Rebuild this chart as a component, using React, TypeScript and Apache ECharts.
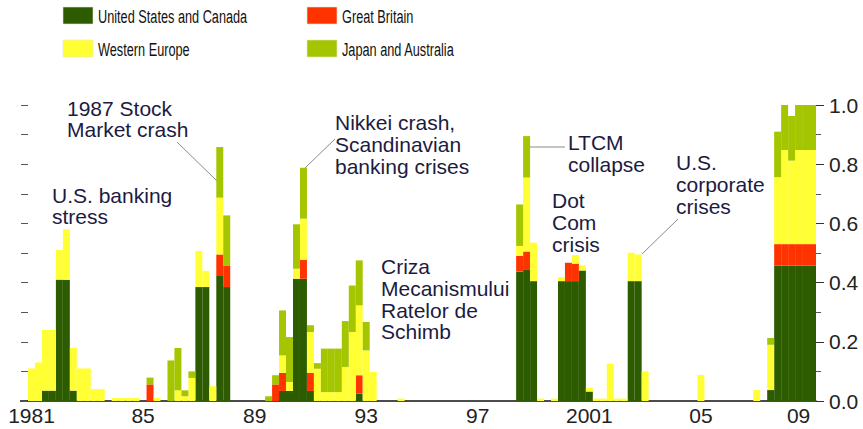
import React, { useEffect, useRef } from "react";
import * as echarts from "echarts";

// Quarterly categories 1981Q1 .. 2009Q1
const quarters: string[] = [];
for (let y = 1981; y <= 2009; y++) {
  for (let q = 1; q <= 4; q++) {
    if (y < 2009 || q === 1) quarters.push(`${y}Q${q}`);
  }
}

// tick label positions (category index) and texts
const tickIndex = [0, 16, 32, 48, 64, 80, 96, 110];
const tickText = ["1981", "85", "89", "93", "97", "2001", "05", "09"];

const seriesNames = [
  "United States and Canada",
  "Great Britain",
  "Western Europe",
  "Japan and Australia",
];
const seriesColors = ["#2D5B00", "#FF3300", "#FFFF33", "#A4C600"];

// [quarter, value] — quarters not listed are 0
const usCanada: [string, number][] = [
  ["1981Q3", 0.035], ["1981Q4", 0.035], ["1982Q1", 0.41], ["1982Q2", 0.41], ["1982Q3", 0.035],
  ["1987Q1", 0.385], ["1987Q2", 0.385], ["1987Q4", 0.425], ["1988Q1", 0.385],
  ["1990Q1", 0.034], ["1990Q2", 0.034], ["1990Q3", 0.413], ["1990Q4", 0.413], ["1991Q1", 0.034],
  ["1992Q4", 0.025],
  ["1998Q3", 0.437], ["1998Q4", 0.445], ["1999Q1", 0.405],
  ["2000Q1", 0.405], ["2000Q2", 0.405], ["2000Q3", 0.405], ["2000Q4", 0.441], ["2001Q1", 0.032],
  ["2002Q3", 0.405], ["2002Q4", 0.405],
  ["2007Q3", 0.037], ["2007Q4", 0.457], ["2008Q1", 0.457], ["2008Q2", 0.457],
  ["2008Q3", 0.457], ["2008Q4", 0.457], ["2009Q1", 0.457],
];

const greatBritain: [string, number][] = [
  ["1985Q2", 0.056], ["1987Q4", 0.07], ["1988Q1", 0.073],
  ["1989Q4", 0.056], ["1990Q1", 0.061], ["1990Q4", 0.064], ["1991Q1", 0.061],
  ["1992Q4", 0.062], ["1998Q3", 0.053], ["1998Q4", 0.06],
  ["2000Q2", 0.062], ["2000Q3", 0.059],
  ["2007Q4", 0.073], ["2008Q1", 0.073], ["2008Q2", 0.073], ["2008Q3", 0.073],
  ["2008Q4", 0.073], ["2009Q1", 0.073],
];

const westernEurope: [string, number][] = [
  ["1981Q1", 0.11], ["1981Q2", 0.13], ["1981Q3", 0.205], ["1981Q4", 0.205],
  ["1982Q1", 0.1], ["1982Q2", 0.17], ["1982Q3", 0.145], ["1982Q4", 0.11],
  ["1983Q1", 0.11], ["1983Q2", 0.04], ["1983Q3", 0.04],
  ["1984Q1", 0.01], ["1984Q2", 0.01], ["1984Q3", 0.01], ["1984Q4", 0.01],
  ["1985Q3", 0.01], ["1986Q2", 0.036], ["1986Q3", 0.016], ["1986Q4", 0.078],
  ["1987Q1", 0.122], ["1987Q2", 0.055], ["1987Q3", 0.05], ["1987Q4", 0.192],
  ["1990Q1", 0.059], ["1990Q2", 0.03], ["1990Q3", 0.034], ["1990Q4", 0.139],
  ["1991Q1", 0.138], ["1991Q2", 0.109], ["1991Q3", 0.03], ["1991Q4", 0.03],
  ["1992Q1", 0.03], ["1992Q2", 0.115], ["1992Q3", 0.233], ["1992Q4", 0.236],
  ["1993Q1", 0.171], ["1993Q2", 0.098], ["1994Q2", 0.008],
  ["1998Q3", 0.034], ["1998Q4", 0.25], ["1999Q1", 0.13], ["1999Q2", 0.008], ["1999Q4", 0.008],
  ["2000Q1", 0.014], ["2000Q3", 0.029], ["2000Q4", 0.017], ["2001Q1", 0.013],
  ["2001Q2", 0.008], ["2001Q3", 0.008], ["2001Q4", 0.126], ["2002Q1", 0.008], ["2002Q2", 0.008],
  ["2002Q3", 0.096], ["2002Q4", 0.09], ["2003Q1", 0.1], ["2005Q1", 0.088], ["2007Q1", 0.037],
  ["2007Q3", 0.153], ["2007Q4", 0.226], ["2008Q1", 0.318], ["2008Q2", 0.282],
  ["2008Q3", 0.318], ["2008Q4", 0.318], ["2009Q1", 0.318],
];

const japanAustralia: [string, number][] = [
  ["1985Q2", 0.023], ["1986Q1", 0.137], ["1986Q2", 0.143], ["1986Q3", 0.02], ["1986Q4", 0.022],
  ["1987Q4", 0.171], ["1988Q1", 0.169],
  ["1989Q3", 0.016], ["1989Q4", 0.031], ["1990Q1", 0.152], ["1990Q2", 0.152],
  ["1990Q3", 0.15], ["1990Q4", 0.172], ["1991Q1", 0.023], ["1991Q2", 0.019],
  ["1991Q3", 0.147], ["1991Q4", 0.147], ["1992Q1", 0.147], ["1992Q2", 0.155],
  ["1992Q3", 0.157], ["1992Q4", 0.152], ["1993Q1", 0.096],
  ["1998Q3", 0.14], ["1998Q4", 0.14],
  ["2007Q3", 0.023], ["2007Q4", 0.154], ["2008Q1", 0.152], ["2008Q2", 0.151],
  ["2008Q3", 0.152], ["2008Q4", 0.152], ["2009Q1", 0.152],
];

const seriesValues = [usCanada, greatBritain, westernEurope, japanAustralia];

const toDense = (pairs: [string, number][]) => {
  const m = new Map(pairs);
  return quarters.map((q) => m.get(q) ?? 0);
};

const annotations: { text: string; x: number; y: number; lh: number }[] = [
  { text: "U.S. banking\nstress", x: 52, y: 185, lh: 21 },
  { text: "1987 Stock\nMarket crash", x: 67, y: 98, lh: 21 },
  { text: "Nikkei crash,\nScandinavian\nbanking crises", x: 335, y: 112, lh: 21.7 },
  { text: "Criza\nMecanismului\nRatelor de\nSchimb", x: 381, y: 256, lh: 21.7 },
  { text: "LTCM\ncollapse", x: 568, y: 132, lh: 21.7 },
  { text: "Dot\nCom\ncrisis", x: 552, y: 189, lh: 22 },
  { text: "U.S.\ncorporate\ncrises", x: 676, y: 152, lh: 21.7 },
];

const leaders: [number, number, number, number][] = [
  [177, 142, 217, 181],
  [335, 139, 305, 168],
  [529, 147, 565, 147],
  [678, 219, 642, 254],
];

// legend layout (swatch top-left)
const legendPos: [number, number][] = [
  [63, 7],
  [307, 7],
  [63, 40],
  [307, 40],
];

const FONT = "'Liberation Sans', Arial, Helvetica, sans-serif";
const TEXT_COLOR = "#1c1b3f";

export default function App() {
  const ref = useRef<HTMLDivElement>(null);
  useEffect(() => {
    document.body.style.margin = "0";
    if (!ref.current) return;
    const chart = echarts.init(ref.current, undefined, { renderer: "svg" });
    const option: any = {
      animation: false,
      backgroundColor: "#ffffff",
      grid: { left: 28, right: 47, top: 105, bottom: 28 },
      xAxis: {
        type: "category",
        data: quarters,
        boundaryGap: true,
        axisLine: { show: true, lineStyle: { color: "#111", width: 1.5 } },
        axisTick: { show: false },
        splitLine: { show: false },
        axisLabel: {
          interval: (index: number) => tickIndex.includes(index),
          formatter: (_v: string, index: number) => {
            const k = tickIndex.indexOf(index);
            return k >= 0 ? tickText[k] : "";
          },
          fontFamily: FONT,
          fontSize: 21,
          color: "#222",
          margin: 4,
        },
      },
      yAxis: [
        {
          type: "value",
          position: "left",
          min: 0,
          max: 1,
          interval: 0.1,
          axisLine: { show: false },
          axisTick: { show: true, length: 7, lineStyle: { color: "#555" } },
          axisLabel: { show: false },
          splitLine: { show: false },
        },
        {
          type: "value",
          position: "right",
          min: 0,
          max: 1,
          interval: 0.2,
          axisLine: { show: false },
          axisTick: { show: true, length: 8, lineStyle: { color: "#333" } },
          minorTick: { show: true, splitNumber: 2, length: 5, lineStyle: { color: "#555" } },
          axisLabel: {
            formatter: (v: number) => v.toFixed(1),
            fontFamily: FONT,
            fontSize: 21,
            color: "#222",
            margin: 13,
          },
          splitLine: { show: false },
          minorSplitLine: { show: false },
        },
      ],
      series: seriesNames.map((name, i) => ({
        name,
        type: "bar",
        stack: "total",
        yAxisIndex: 0,
        barCategoryGap: "0%",
        barGap: "0%",
        itemStyle: { color: seriesColors[i] },
        data: toDense(seriesValues[i]),
      })),
      graphic: [
        // legend: swatches + horizontally condensed labels
        ...seriesNames.map((name, i) => ({
          type: "group",
          x: legendPos[i][0],
          y: legendPos[i][1],
          silent: true,
          children: [
            {
              type: "rect",
              shape: { x: 0, y: 0, width: 30, height: 17 },
              style: { fill: seriesColors[i], stroke: "#e8e8c8", lineWidth: 0.6 },
            },
            {
              type: "text",
              x: 35,
              y: 8.5,
              scaleX: 0.67,
              style: {
                text: name,
                fill: "#111",
                font: `19px ${FONT}`,
                align: "left",
                verticalAlign: "middle",
              },
            },
          ],
        })),
        // extension of the baseline to the left tick marks
        {
          type: "line",
          silent: true,
          shape: { x1: 20, y1: 401, x2: 28, y2: 401 },
          style: { stroke: "#111", lineWidth: 1.5 },
        },
        ...annotations.map((a) => ({
          type: "text",
          x: a.x,
          y: a.y,
          silent: true,
          style: {
            text: a.text,
            fill: TEXT_COLOR,
            font: `21px ${FONT}`,
            lineHeight: a.lh,
            align: "left",
            verticalAlign: "top",
          },
        })),
        ...leaders.map((l) => ({
          type: "line",
          silent: true,
          shape: { x1: l[0], y1: l[1], x2: l[2], y2: l[3] },
          style: { stroke: "#8a8a8a", lineWidth: 1 },
        })),
      ],
    };
    chart.setOption(option);
    return () => chart.dispose();
  }, []);
  return (
    <div
      ref={ref}
      style={{ position: "absolute", left: 0, top: 0, width: 863, height: 429 }}
    />
  );
}
